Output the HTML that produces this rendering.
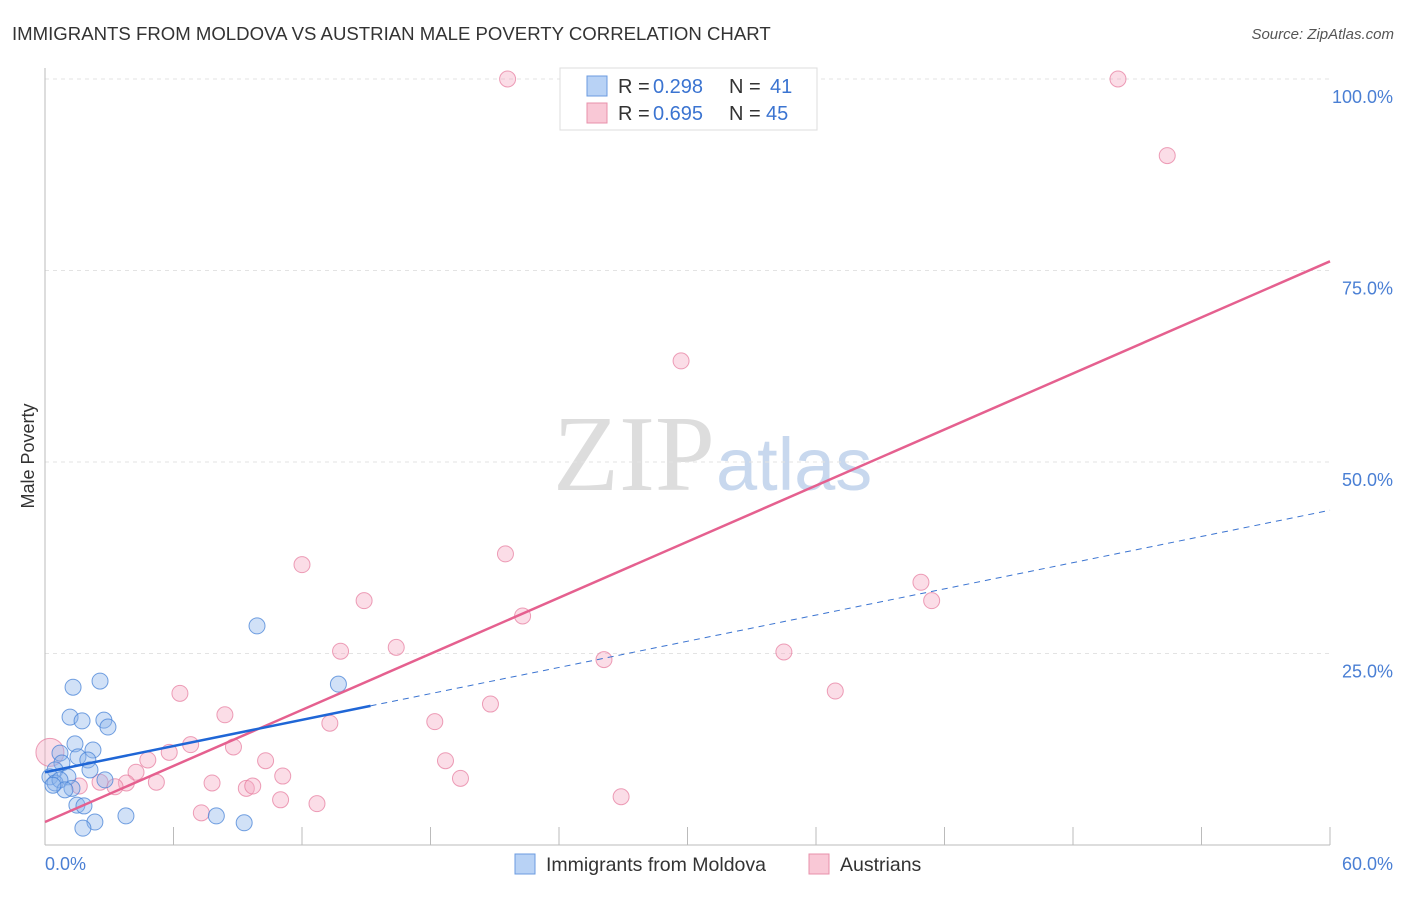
<!DOCTYPE html>
<html><head><meta charset="utf-8"><style>
body{margin:0;background:#fff;font-family:"Liberation Sans",sans-serif;}
</style></head><body>
<svg width="1406" height="892" xmlns="http://www.w3.org/2000/svg" font-family="Liberation Sans, sans-serif">
<text x="12" y="40" font-size="18.6" fill="#333">IMMIGRANTS FROM MOLDOVA VS AUSTRIAN MALE POVERTY CORRELATION CHART</text>
<text x="1394" y="39" font-size="15" fill="#555" font-style="italic" text-anchor="end">Source: ZipAtlas.com</text>
<text x="715" y="490" font-size="108" fill="#ddd" text-anchor="end" font-family="Liberation Serif, serif">ZIP</text>
<text x="716" y="490" font-size="74" fill="#c8d8ee">atlas</text>
<g id="grid"></g>
<line x1="45" y1="68" x2="45" y2="845" stroke="#bbb"/>
<line x1="45" y1="845" x2="1330" y2="845" stroke="#bbb"/>
<text x="34" y="456" font-size="18" fill="#333" text-anchor="middle" transform="rotate(-90 34 456)">Male Poverty</text>
<text x="45" y="870" font-size="18" fill="#4a7fd4">0.0%</text>
<text x="1393" y="870" font-size="18" fill="#4a7fd4" text-anchor="end">60.0%</text>
<g id="marks"></g>
<g>
<rect x="560" y="68" width="257" height="62" fill="#fff" stroke="#ddd"/>
<rect x="587" y="76" width="20" height="20" fill="#b8d2f5" stroke="#6b9be0"/>
<rect x="587" y="103" width="20" height="20" fill="#f9c8d6" stroke="#e890ab"/>
<text x="618" y="93" font-size="20" fill="#333">R =</text>
<text x="653" y="93" font-size="20" fill="#3b74d1">0.298</text>
<text x="729" y="93" font-size="20" fill="#333">N =</text>
<text x="770" y="93" font-size="20" fill="#3b74d1">41</text>
<text x="618" y="120" font-size="20" fill="#333">R =</text>
<text x="653" y="120" font-size="20" fill="#3b74d1">0.695</text>
<text x="729" y="120" font-size="20" fill="#333">N =</text>
<text x="766" y="120" font-size="20" fill="#3b74d1">45</text>
</g>
<g>
<rect x="515" y="854" width="20" height="20" fill="#b8d2f5" stroke="#6b9be0"/>
<text x="546" y="871" font-size="19.5" fill="#333">Immigrants from Moldova</text>
<rect x="809" y="854" width="20" height="20" fill="#f9c8d6" stroke="#e890ab"/>
<text x="840" y="871" font-size="19.5" fill="#333">Austrians</text>
</g>
</svg>
<script>
const yTicks=[25,50,75,100];
const yTickLabels=["25.0%","50.0%","75.0%","100.0%"];
const xTicks=[0,6,12,18,24,30,36,42,48,54,60];
const blueX=[9.9,13.7,2.57,1.31,1.17,1.73,2.75,2.94,1.4,2.24,0.7,1.54,2.0,0.79,0.47,2.1,0.23,1.07,2.8,0.47,0.7,1.26,0.93,1.49,1.82,2.33,1.77,3.78,8.0,9.3,0.37];
const blueY=[28.6,21.0,21.4,20.6,16.7,16.2,16.3,15.4,13.2,12.4,12.0,11.5,11.1,10.7,9.8,9.8,8.9,8.9,8.5,8.1,8.5,7.4,7.2,5.2,5.1,3.0,2.2,3.8,3.8,2.9,7.8];
const pinkX=[21.6,50.1,52.4,29.7,21.5,12.0,14.9,40.9,41.4,22.3,13.8,16.4,26.1,34.5,36.9,6.3,20.8,8.4,18.2,13.3,6.8,8.8,5.8,4.8,10.3,18.7,4.25,11.1,19.4,7.8,5.2,3.8,2.57,3.27,9.4,9.7,11.0,12.7,7.3,26.9,0.23,1.6];
const pinkY=[100,100,90,63.2,38,36.6,31.9,34.3,31.9,29.9,25.3,25.8,24.2,25.2,20.1,19.8,18.4,17.0,16.1,15.9,13.1,12.8,12.1,11.1,11.0,11.0,9.5,9.0,8.7,8.1,8.2,8.1,8.2,7.6,7.4,7.7,5.9,5.4,4.2,6.3,12.1,7.7];
const pinkTrend=[3.0,76.2];
const blueTrend=[9.5,0.57];
const blueSolidEnd=15.2;
const NS="http://www.w3.org/2000/svg";
const X=v=>45+v/60*1285, Y=v=>845-v/100*766;
function mk(t,a,p){const e=document.createElementNS(NS,t);for(const k in a)e.setAttribute(k,a[k]);p.appendChild(e);return e;}
const grid=document.getElementById('grid'), marks=document.getElementById('marks');
yTicks.forEach((t,i)=>{
 const l=mk('line',{x1:45,x2:1330,y1:Y(t),y2:Y(t),stroke:'#e3e3e3','stroke-dasharray':'4,4'},grid);
 
 
 const tx=mk('text',{x:1393,y:Y(t)+24,'font-size':18,fill:'#4a7fd4','text-anchor':'end'},grid);
 tx.textContent=yTickLabels[i];
 
 
});
xTicks.forEach(t=>{
 const l=mk('line',{x1:X(t),x2:X(t),y1:827,y2:845,stroke:'#bbb'},grid);
 
 
});
pinkX.forEach((x,i)=>{
 const c=mk('circle',{cx:X(x),cy:Y(pinkY[i]),r:i==40?14:8,fill:'rgba(245,170,195,0.4)',stroke:'rgba(230,120,155,0.7)','stroke-width':1},marks);
 
 
});
blueX.forEach((x,i)=>{
 const c=mk('circle',{cx:X(x),cy:Y(blueY[i]),r:8,fill:'rgba(140,180,235,0.4)',stroke:'rgba(70,130,215,0.75)','stroke-width':1},marks);
 
 
});
const bd=mk('line',{x1:X(blueSolidEnd),y1:Y(blueTrend[0]+blueTrend[1]*blueSolidEnd),x2:X(60),y2:Y(blueTrend[0]+blueTrend[1]*60),stroke:'#3b74d1','stroke-width':1,'stroke-dasharray':'6,5'},marks);


const pl=mk('line',{x1:X(0),y1:Y(pinkTrend[0]),x2:X(60),y2:Y(pinkTrend[1]),stroke:'#e5608f','stroke-width':2.5},marks);


const bl=mk('line',{x1:X(0),y1:Y(blueTrend[0]),x2:X(blueSolidEnd),y2:Y(blueTrend[0]+blueTrend[1]*blueSolidEnd),stroke:'#1f66d6','stroke-width':2.5},marks);


</script>
</body></html>
